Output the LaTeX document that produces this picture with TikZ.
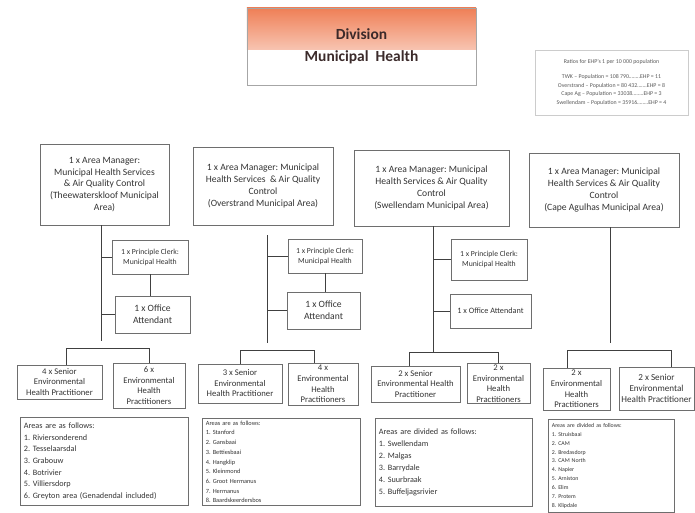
\documentclass[tikz,border=0pt]{standalone}
\usepackage{fontspec}
\setmainfont{Carlito}
\usetikzlibrary{positioning}
\definecolor{boxgray}{HTML}{6E6E6E}
\definecolor{txtgray}{HTML}{333333}
\definecolor{ttlorange}{HTML}{EF7F56}
\definecolor{ttltext}{HTML}{3B2A2A}

\begin{document}
\frenchspacing
\begin{tikzpicture}[
      x=0.03cm, y=-0.03cm,
      every node/.style={text=txtgray},
      block/.style={rectangle, draw=boxgray, line width=0.6pt, align=center, inner sep=1pt},
      mgr_block/.style={block, font=\fontsize{8.2}{10}\selectfont},
      clerk_block/.style={block, font=\fontsize{6.6}{8.5}\selectfont},
      ehp_block/.style={block, font=\fontsize{7.4}{9}\selectfont},
      list_block/.style={block, align=left, anchor=north west, inner sep=3pt},
      line/.style={draw=black!75, line width=0.6pt}
  ]
  \useasboundingbox (0,0) rectangle (695,513);

  % heading and ratios
  \node [block, draw=black!35, minimum width=6.87cm, minimum height=2.31cm, text=ttltext,
         font=\fontsize{13.2}{18.5}\selectfont\bfseries,
         path picture={\shade[top color=ttlorange, bottom color=white] (path picture bounding box.north west) rectangle ([yshift=-1.25cm]path picture bounding box.north east);}]
        (title) at (361.5,46.5) {Division\\Municipal\ \ Health};
  \node [block, draw=black!20, minimum width=4.59cm, minimum height=1.95cm, text=black!65,
         font=\fontsize{5}{7.6}\selectfont] (ratios) at (611.5,82.5)
        {Ratios for EHP's 1 per 10 000 population\\[5pt]
         TWK -- Population = 108 790\ldots\ldots..EHP = 11\\
         Overstrand -- Population = 80 432\ldots\ldots.EHP = 8\\
         Cape Ag -- Population = 33038\ldots\ldots..EHP = 3\\
         Swellendam -- Population = 35916\ldots\ldots..EHP = 4};

  % area managers
  \node [mgr_block, minimum width=3.87cm, minimum height=2.43cm] (twk) at (104.5,184.5)
        {1 x Area Manager:\\Municipal Health Services\\\& Air Quality Control\\(Theewaterskloof Municipal\\Area)};
  \node [mgr_block, minimum width=4.2cm, minimum height=2.34cm] (ovs) at (263,186)
        {1 x Area Manager: Municipal\\Health Services \ \& Air Quality\\Control\\(Overstrand Municipal Area)};
  \node [mgr_block, minimum width=4.65cm, minimum height=2.28cm] (swd) at (431.5,188)
        {1 x Area Manager: Municipal\\Health Services \& Air Quality\\Control\\(Swellendam Municipal Area)};
  \node [mgr_block, minimum width=4.5cm, minimum height=2.22cm] (cag) at (604,190)
        {1 x Area Manager: Municipal\\Health Services \& Air Quality\\Control\\(Cape Agulhas Municipal Area)};

  % clerks and office attendants
  \node [clerk_block, minimum width=2.28cm, minimum height=1.02cm] (twk_clerk) at (150,257) {1 x Principle Clerk:\\Municipal Health};
  \node [clerk_block, minimum width=2.22cm, minimum height=1.02cm] (ovs_clerk) at (325,256) {1 x Principle Clerk:\\Municipal Health};
  \node [clerk_block, minimum width=2.28cm, minimum height=1.23cm] (swd_clerk) at (489,259.5) {1 x Principle Clerk:\\Municipal Health};
  \node [mgr_block, minimum width=2.25cm, minimum height=1.11cm] (twk_att) at (152.5,314.5) {1 x Office\\Attendant};
  \node [mgr_block, minimum width=2.19cm, minimum height=1.11cm] (ovs_att) at (323.5,310.5) {1 x Office\\Attendant};
  \node [clerk_block, font=\fontsize{7}{9}\selectfont, minimum width=2.43cm, minimum height=1.02cm] (swd_att) at (490.5,311) {1 x Office Attendant};

  % practitioners
  \node [ehp_block, minimum width=2.55cm, minimum height=1.02cm] (twk_sen) at (59.5,382) {4 x Senior\\Environmental\\Health Practitioner};
  \node [ehp_block, minimum width=2.16cm, minimum height=1.35cm] (twk_ehp) at (149,385.5) {6 x\\Environmental\\Health\\Practitioners};
  \node [ehp_block, minimum width=2.52cm, minimum height=1.17cm] (ovs_sen) at (240,383.5) {3 x Senior\\Environmental\\Health Practitioner};
  \node [ehp_block, minimum width=2.1cm, minimum height=1.26cm] (ovs_ehp) at (323,384) {4 x\\Environmental\\Health\\Practitioners};
  \node [ehp_block, minimum width=2.67cm, minimum height=1.08cm] (swd_sen) at (415.5,384) {2 x Senior\\Environmental Health\\Practitioner};
  \node [ehp_block, minimum width=1.89cm, minimum height=1.17cm] (swd_ehp) at (498.5,383.5) {2 x\\Environmental\\Health\\Practitioners};
  \node [ehp_block, minimum width=2.01cm, minimum height=1.26cm] (cag_ehp) at (576.5,389) {2 x\\Environmental\\Health\\Practitioners};
  \node [ehp_block, font=\fontsize{7.8}{9.5}\selectfont, minimum width=2.25cm, minimum height=1.29cm] (cag_sen) at (656.5,388.5) {2 x Senior\\Environmental\\Health Practitioner};

  % areas
  \node [list_block, font=\fontsize{7}{10}\selectfont, text width=5.04cm-6pt, minimum height=2.64cm] (twk_areas) at (20,417)
        {Areas are as follows:\\1. Riviersonderend\\2. Tesselaarsdal\\3. Grabouw\\4. Botrivier\\5. Villiersdorp\\6. Greyton area (Genadendal included)};
  \node [list_block, font=\fontsize{5.4}{8.3}\selectfont, text width=4.74cm-6pt, minimum height=2.61cm, inner ysep=1pt] (ovs_areas) at (202,418)
        {Areas are as follows:\\1. Stanford\\2. Gansbaai\\3. Bettiesbaai\\4. Hangklip\\5. Kleinmond\\6. Groot Hermanus\\7. Hermanus\\8. Baardskeerdersbos};
  \node [list_block, font=\fontsize{7}{10.2}\selectfont, text width=4.71cm-6pt, minimum height=2.64cm] (swd_areas) at (375,418)
        {Areas are divided as follows:\\1. Swellendam\\2. Malgas\\3. Barrydale\\4. Suurbraak\\5. Buffeljagsrivier};
  \node [list_block, font=\fontsize{5}{7.6}\selectfont, text width=3.78cm-6pt, minimum height=2.79cm, inner ysep=1pt] (cag_areas) at (548,419)
        {Areas are divided as follows:\\1. Struisbaai\\2. CAM\\2. Bredasdorp\\3. CAM North\\4. Napier\\5. Arniston\\6. Elim\\7. Protem\\8. Klipdale};

  % trunks
  \coordinate (t1) at (101,341);
  \coordinate (t2) at (267,343);
  \coordinate (t3) at (433,352);
  \coordinate (t4) at (610,343);
  \path [line] (twk.south -| t1) -- (t1);
  \path [line] (ovs.south -| t2) ++(0,10) -- (t2);
  \path [line] (swd.south -| t3) -- (t3);
  \path [line] (cag.south -| t4) -- (t4);

  \path [line] (t1 |- twk_clerk.west) -- (twk_clerk.west);
  \path [line] (t1 |- twk_att.west) -- (twk_att.west);
  \path [line] (twk_clerk.south) -- (twk_clerk.south |- twk_att.north);
  \path [line] (t2 |- ovs_clerk.west) -- (ovs_clerk.west);
  \path [line] (t2 |- ovs_att.west) -- (ovs_att.west);
  \path [line] (ovs_clerk.south) -- (ovs_clerk.south |- ovs_att.north);
  \path [line] (t3 |- swd_clerk.west) -- (swd_clerk.west);
  \path [line] (t3 |- swd_att.west) -- (swd_att.west);

  % practitioner bars
  \coordinate (b1) at (0,348);
  \coordinate (b2) at (0,350);
  \coordinate (b3) at (0,352);
  \coordinate (b4) at (0,350);
  \coordinate (d4) at ([xshift=-0.27cm]ovs_ehp.north);
  \coordinate (d8) at ([xshift=0.46cm]cag_sen.north);
  \path [line] ([xshift=0.22cm]twk_sen.north) |- (b1 -| twk_ehp.north) -- (twk_ehp.north);
  \path [line] (ovs_sen.north) |- (b2 -| d4) -- (d4);
  \path [line] ([xshift=-0.17cm]swd_sen.north) |- (b3 -| swd_ehp.north) -- (swd_ehp.north);
  \path [line] ([xshift=-0.28cm]cag_ehp.north) |- (b4 -| d8) -- (d8);

\end{tikzpicture}
\end{document}
